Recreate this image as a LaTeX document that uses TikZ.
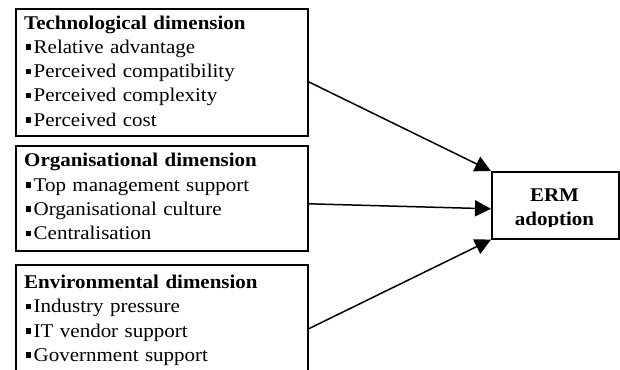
\documentclass[tikz,border=0pt]{standalone}
\usepackage{fontspec}
\setmainfont{Liberation Serif}[FakeStretch=1.08]
\usetikzlibrary{positioning}
\usetikzlibrary{arrows.meta}
\setlength{\parindent}{0pt}

%small square bullet in front of each factor
\newcommand{\sqbul}{\hspace*{1.5bp}\raisebox{3.5bp}{\rule{5bp}{5.5bp}}\hspace{3bp}}

\begin{document}
\begin{tikzpicture}[x=1bp,y=-1bp,
    dimbox/.style={draw,line width=1.6bp,anchor=north west,
        minimum width=292bp,inner sep=0pt},
    dimtext/.style={anchor=north west,inner sep=0pt,text width=280bp,
        align=left,font=\fontsize{19.5}{24.3}\selectfont},
    arr/.style={line width=1.5bp,-{Triangle[length=16bp,width=16bp]}}]

    \useasboundingbox (0,0) rectangle (620,369);

    %dimension boxes
    \node[dimbox,minimum height=127bp] (tech) at (15,8) {};
    \node[dimbox,minimum height=105bp] (orga) at (15,145) {};
    \node[dimbox,minimum height=128bp] (envi) at (15,264) {};%runs off the page

    \node[dimtext] (techtxt) at (24,15.6) {\textbf{Technological dimension}\\
        \sqbul Relative advantage\\
        \sqbul Perceived compatibility\\
        \sqbul Perceived complexity\\
        \sqbul Perceived cost};
    \node[dimtext] (orgatxt) at (24,153.3) {\textbf{Organisational dimension}\\
        \sqbul Top management support\\
        \sqbul Organisational culture\\
        \sqbul Centralisation};
    \node[dimtext] (envitxt) at (24,274.9) {\textbf{Environmental dimension}\\
        \sqbul Industry pressure\\
        \sqbul IT vendor support\\
        \sqbul Government support};

    %outcome
    \node[draw,line width=1.6bp,anchor=north west,minimum width=127bp,
        minimum height=67bp,inner sep=0pt] (erm) at (491,171) {};
    \begin{scope}
    \clip (erm.north west) rectangle ([yshift=13bp]erm.south east);
    \node[anchor=north,inner sep=0pt,align=center,
        font=\bfseries\fontsize{19.5}{24.3}\selectfont] (ermtxt) at (554.5,188.2) {ERM\\adoption};
    \end{scope}

    %arrows
    \draw[arr] ([yshift=-9.5bp]tech.east) -- (erm.north west);
    \draw[arr] ([yshift=-5.5bp]orga.east) -- ([yshift=-3.5bp]erm.west);
    \draw[arr] (envi.east) -- (erm.south west);

\end{tikzpicture}
\end{document}
